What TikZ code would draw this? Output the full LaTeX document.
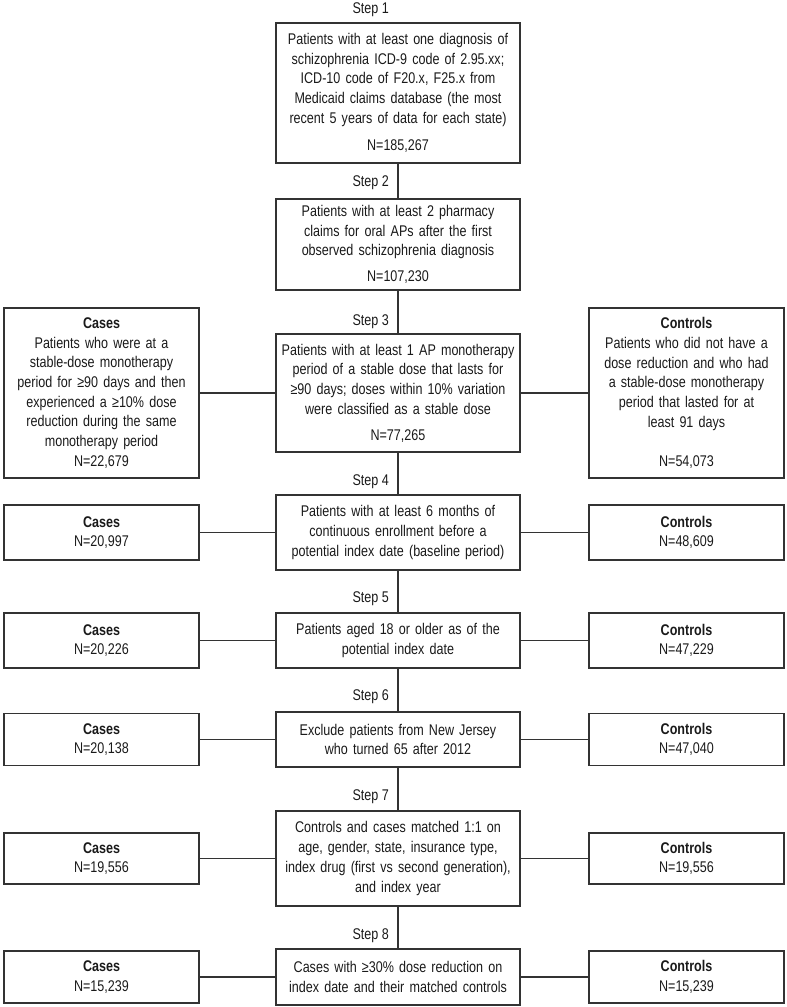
\documentclass[tikz,border=0pt]{standalone}
\usepackage{fontspec}
\setmainfont{Liberation Sans}[FakeStretch=0.81]
\definecolor{boxc}{HTML}{333333}
\definecolor{txtc}{HTML}{1A1A1A}
\newcommand{\fs}{\fontsize{15.5}{19.7}\selectfont}
\begin{document}
\begin{tikzpicture}[x=1pt,y=-1pt,
  cbox/.style={draw=boxc, line width=1.8pt, align=center, text width=244pt, minimum height=#1, inner sep=0pt, font=\fs, text=txtc},
  sbox/.style={draw=boxc, line width=1.8pt, align=center, text width=195pt, minimum height=#1, inner sep=0pt, font=\fs, text=txtc},
  lbl/.style={anchor=east, font=\fs, text=txtc, inner sep=0pt},
  conn/.style={draw=boxc, line width=1.6pt}]
\useasboundingbox (0,0) rectangle (787,1007);
% center column
\node[cbox=140pt] (s1) at (398,93) {Patients with at least one diagnosis of\\schizophrenia ICD-9 code of 2.95.xx;\\ICD-10 code of F20.x, F25.x from\\Medicaid claims database (the most\\recent 5 years of data for each state)\\[8pt]N=185,267};
\node[cbox=91pt] (s2) at (398,244.5) {Patients with at least 2 pharmacy\\claims for oral APs after the first\\observed schizophrenia diagnosis\\[6pt]N=107,230};
\node[cbox=118pt] (s3) at (398,393) {Patients with at least 1 AP monotherapy\\period of a stable dose that lasts for\\≥90 days; doses within 10\% variation\\were classified as a stable dose\\[6pt]N=77,265};
\node[cbox=75pt] (s4) at (398,532.5) {Patients with at least 6 months of\\continuous enrollment before a\\potential index date (baseline period)};
\node[cbox=55pt] (s5) at (398,640.5) {Patients aged 18 or older as of the\\potential index date};
\node[cbox=55pt] (s6) at (398,739.5) {Exclude patients from New Jersey\\who turned 65 after 2012};
\node[cbox=95pt] (s7) at (398,858.5) {Controls and cases matched 1:1 on\\age, gender, state, insurance type,\\index drug (first vs second generation),\\and index year};
\node[cbox=56pt] (s8) at (398,977) {Cases with ≥30\% dose reduction on\\index date and their matched controls};
% step labels
\node[lbl] (t1) at (389,10) {Step 1};
\node[lbl] (t2) at (389,183) {Step 2};
\node[lbl] (t3) at (389,322) {Step 3};
\node[lbl] (t4) at (389,482) {Step 4};
\node[lbl] (t5) at (389,599) {Step 5};
\node[lbl] (t6) at (389,697) {Step 6};
\node[lbl] (t7) at (389,797) {Step 7};
\node[lbl] (t8) at (389,936) {Step 8};
% left column
\node[sbox=170pt] (l3) at (101.5,393) {\textbf{Cases}\\Patients who were at a\\stable-dose monotherapy\\period for ≥90 days and then\\experienced a ≥10\% dose\\reduction during the same\\monotherapy period\\N=22,679};
\node[sbox=55pt] (l4) at (101.5,532.5) {\textbf{Cases}\\N=20,997};
\node[sbox=55pt] (l5) at (101.5,640.5) {\textbf{Cases}\\N=20,226};
\node[sbox=52pt] (l6) at (101.5,739.5) {\textbf{Cases}\\N=20,138};
\node[sbox=51pt] (l7) at (101.5,858.5) {\textbf{Cases}\\N=19,556};
\node[sbox=52pt] (l8) at (101.5,977) {\textbf{Cases}\\N=15,239};
% right column
\node[sbox=170pt] (r3) at (686.5,393) {\textbf{Controls}\\Patients who did not have a\\dose reduction and who had\\a stable-dose monotherapy\\period that lasted for at\\least 91 days\\[19.7pt]N=54,073};
\node[sbox=55pt] (r4) at (686.5,532.5) {\textbf{Controls}\\N=48,609};
\node[sbox=55pt] (r5) at (686.5,640.5) {\textbf{Controls}\\N=47,229};
\node[sbox=52pt] (r6) at (686.5,739.5) {\textbf{Controls}\\N=47,040};
\node[sbox=51pt] (r7) at (686.5,858.5) {\textbf{Controls}\\N=19,556};
\node[sbox=52pt] (r8) at (686.5,977) {\textbf{Controls}\\N=15,239};
% connectors
\draw[conn] (s1) -- (s2);
\draw[conn] (s2) -- (s3);
\draw[conn] (s3) -- (s4);
\draw[conn] (s4) -- (s5);
\draw[conn] (s5) -- (s6);
\draw[conn] (s6) -- (s7);
\draw[conn] (s7) -- (s8);
\foreach \i in {3,...,8}{
  \draw[conn] (l\i) -- (s\i);
  \draw[conn] (s\i) -- (r\i);
}
\end{tikzpicture}
\end{document}
